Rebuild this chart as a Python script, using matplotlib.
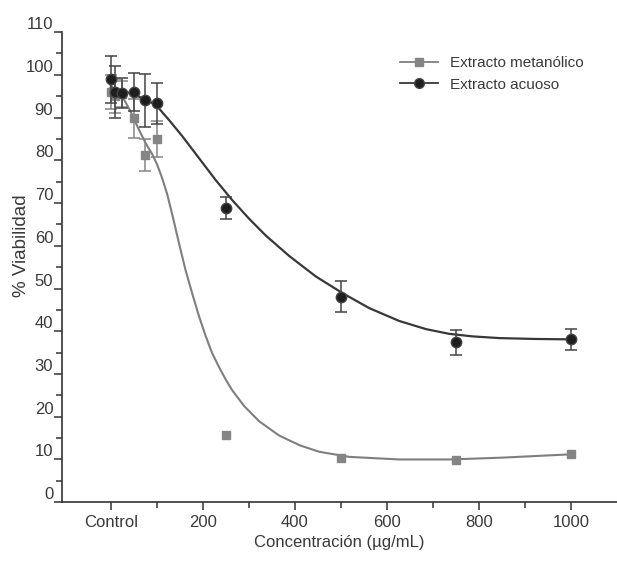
import matplotlib
matplotlib.use("Agg")
import matplotlib.pyplot as plt
from matplotlib.lines import Line2D
import numpy as np

plt.rcParams['font.family'] = ['Liberation Sans', 'DejaVu Sans']

# ---- data ----
conc = [0, 10, 25, 50, 75, 100, 250, 500, 750, 1000]
metanol = [96.0, 95.0, 95.5, 89.8, 81.3, 85.0, 15.8, 10.3, 9.8, 11.2]
metanol_err = [4.0, 4.0, 3.0, 4.5, 3.7, 4.3, np.nan, np.nan, np.nan, np.nan]
acuoso = [99.0, 96.0, 95.7, 96.0, 94.0, 93.4, 68.8, 48.1, 37.4, 38.1]
acuoso_err = [5.5, 6.0, 3.5, 4.5, 6.2, 4.8, 2.5, 3.6, 2.9, 2.5]

# fitted curves
fit_met_x = [0, 25, 43, 60, 76, 90, 101, 112, 123, 135, 148, 162, 177, 192, 206, 220,
             235, 250, 264, 290, 323, 366, 411, 453, 519, 627, 736, 845, 1000]
fit_met_y = [97.5, 95.0, 91.5, 87.5, 84.0, 81.5, 79.0, 75.8, 72.0, 66.8, 60.8, 54.6, 48.9,
             43.5, 39.0, 35.0, 31.7, 28.7, 26.2, 22.5, 18.9, 15.6, 13.3, 11.8, 10.6, 10.0,
             10.0, 10.4, 11.2]
fit_acu_x = [0, 50, 98, 127, 156, 192, 228, 264, 301, 337, 388, 446, 504, 562, 627,
             685, 735, 786, 844, 920, 1000]
fit_acu_y = [97.0, 95.5, 93.0, 89.4, 85.6, 80.5, 75.4, 70.7, 66.3, 62.4, 57.6, 52.8,
             48.9, 45.4, 42.4, 40.5, 39.4, 38.8, 38.4, 38.2, 38.1]

xticks = [0, 200, 400, 600, 800, 1000]
xticklabels = ['Control', '200', '400', '600', '800', '1000']
yticks = list(range(0, 111, 10))

series_labels = ['Extracto metanólico', 'Extracto acuoso']

# ---- styling ----
gray = '#858585'
black = '#1e1e1e'
txt = '#3a3a3a'

fig = plt.figure(figsize=(6.17, 5.63), dpi=100)
ax = fig.add_axes([0.101, 0.108, 0.899, 0.835])

ax.plot(fit_met_x, fit_met_y, color='#7f7f7f', lw=1.5, zorder=2,
        solid_joinstyle='round')
ax.plot(fit_acu_x, fit_acu_y, color='#383838', lw=1.6, zorder=2,
        solid_joinstyle='round')

ax.errorbar(conc, metanol, yerr=metanol_err, fmt='s', color=gray, ms=6.3,
            ecolor=gray, elinewidth=1.1, capsize=4, capthick=1.1, zorder=3)
ax.errorbar(conc, acuoso, yerr=acuoso_err, fmt='o', color=black, ms=7.5,
            mec='#444444', ecolor='#444444', elinewidth=1.1, capsize=4, capthick=1.1, zorder=4)

ax.set_xlim(-105, 1100)
ax.set_ylim(0, 110)
ax.set_xticks(xticks)
ax.set_xticklabels(xticklabels)
ax.set_xticks([100, 300, 500, 700, 900], minor=True)
ax.set_yticks(yticks)
ax.set_yticks(list(range(5, 110, 10)), minor=True)

for s in ['top', 'right']:
    ax.spines[s].set_visible(False)
for s in ['left', 'bottom']:
    ax.spines[s].set_color('#333333')
    ax.spines[s].set_linewidth(1.2)

ax.tick_params(axis='both', which='major', direction='out', length=6, width=1.1,
               color='#333333', labelsize=12, labelcolor=txt)
ax.tick_params(axis='both', which='minor', direction='out', length=4, width=1.1,
               color='#333333')
ax.tick_params(axis='y', pad=0.5)
ax.tick_params(axis='x', pad=3)
for lbl in ax.get_yticklabels():
    lbl.set_verticalalignment('bottom')

ax.set_xlabel('Concentración (µg/mL)', fontsize=12, color=txt, labelpad=4)
ax.set_ylabel('% Viabilidad', fontsize=13.5, color=txt)
ax.yaxis.set_label_coords(-0.058, 0.545)

handles = [
    Line2D([], [], color='#7f7f7f', lw=1.3, marker='s', ms=5.5, mfc=gray, mec=gray),
    Line2D([], [], color='#383838', lw=1.3, marker='o', ms=7, mfc=black, mec='#444444'),
]
fig.legend(handles, series_labels, loc='upper left',
           bbox_to_anchor=(400 / 617, 1 - 56 / 563), frameon=False,
           fontsize=11, handlelength=2.5, handletextpad=0.75, labelspacing=0.5,
           borderpad=0, borderaxespad=0, labelcolor=txt)

fig.savefig('out.png', dpi=100)
